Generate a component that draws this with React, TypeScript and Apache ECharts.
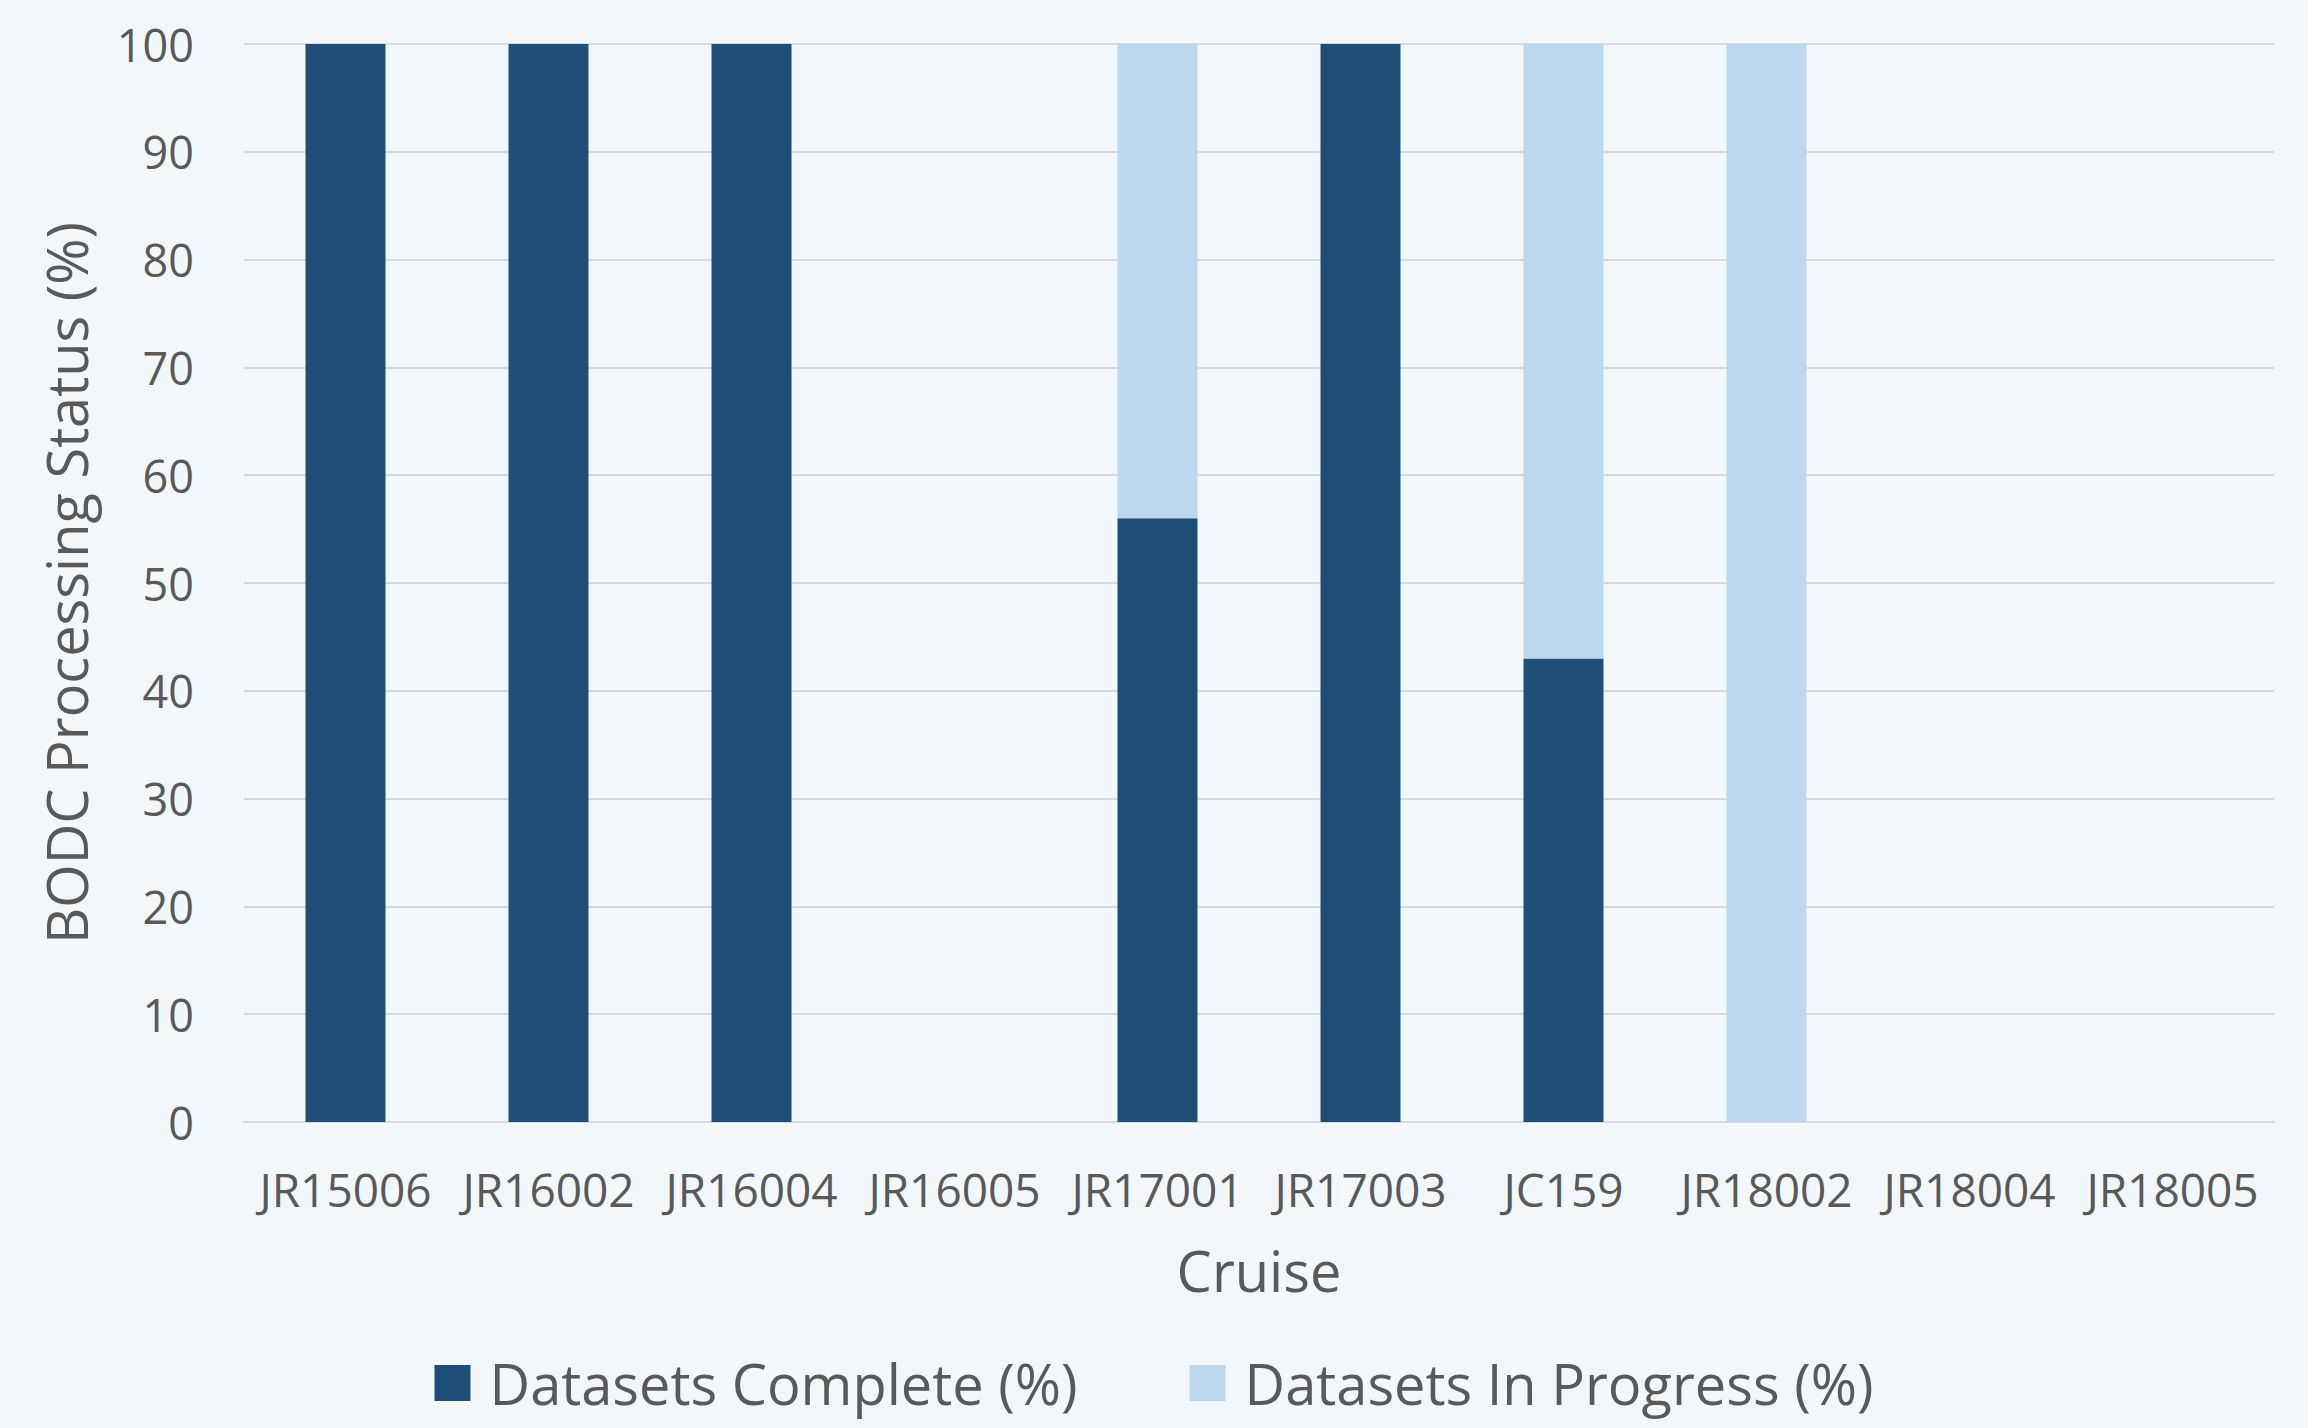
import React, { useEffect, useRef } from "react";
import * as echarts from "echarts";

const cruises = ["JR15006", "JR16002", "JR16004", "JR16005", "JR17001", "JR17003", "JC159", "JR18002", "JR18004", "JR18005"];
const completePct = [100, 100, 100, 0, 56, 100, 43, 0, 0, 0];
const inProgressPct = [0, 0, 0, 0, 44, 0, 57, 100, 0, 0];
const seriesNames = ["Datasets Complete (%)", "Datasets In Progress (%)"];

const FONT = "'Open Sans', sans-serif";
const TEXT = "#595959";

export default function App() {
  const ref = useRef<HTMLDivElement>(null);
  useEffect(() => {
    if (!ref.current) return;
    const chart = echarts.init(ref.current, null, { renderer: "svg" });
    chart.setOption({
      animation: false,
      backgroundColor: "#F2F7FB",
      textStyle: { fontFamily: FONT, color: TEXT },
      grid: { left: 244, right: 34, top: 44, bottom: 306 },
      legend: {
        bottom: 12,
        left: "center",
        itemWidth: 36,
        itemHeight: 36,
        itemGap: 112,
        icon: "rect",
        textStyle: { fontFamily: FONT, color: TEXT, fontSize: 56, padding: [0, 0, 0, 14] },
        data: seriesNames,
      },
      xAxis: {
        type: "category",
        data: cruises,
        name: "Cruise",
        nameLocation: "middle",
        nameGap: 120,
        nameTextStyle: { fontFamily: FONT, color: TEXT, fontSize: 56 },
        axisLine: { lineStyle: { color: "#D9D9D9", width: 2 } },
        axisTick: { show: false },
        axisLabel: { fontFamily: FONT, color: TEXT, fontSize: 46, margin: 44, interval: 0 },
      },
      yAxis: {
        type: "value",
        min: 0,
        max: 100,
        interval: 10,
        name: "BODC Processing Status (%)",
        nameLocation: "middle",
        nameGap: 150,
        nameTextStyle: { fontFamily: FONT, color: TEXT, fontSize: 56 },
        axisLine: { show: false },
        axisTick: { show: false },
        axisLabel: { fontFamily: FONT, color: TEXT, fontSize: 45, margin: 50 },
        splitLine: { lineStyle: { color: "#D9D9D9", width: 2 } },
      },
      series: [
        {
          name: seriesNames[0],
          type: "bar",
          stack: "total",
          barWidth: "39.4%",
          itemStyle: { color: "#1F4E79" },
          data: completePct,
        },
        {
          name: seriesNames[1],
          type: "bar",
          stack: "total",
          barWidth: "39.4%",
          itemStyle: { color: "#BDD7EE" },
          data: inProgressPct,
        },
      ],
    });
    return () => chart.dispose();
  }, []);
  return (
    <div
      ref={ref}
      style={{ position: "fixed", left: 0, top: 0, width: 2308, height: 1428 }}
    />
  );
}
